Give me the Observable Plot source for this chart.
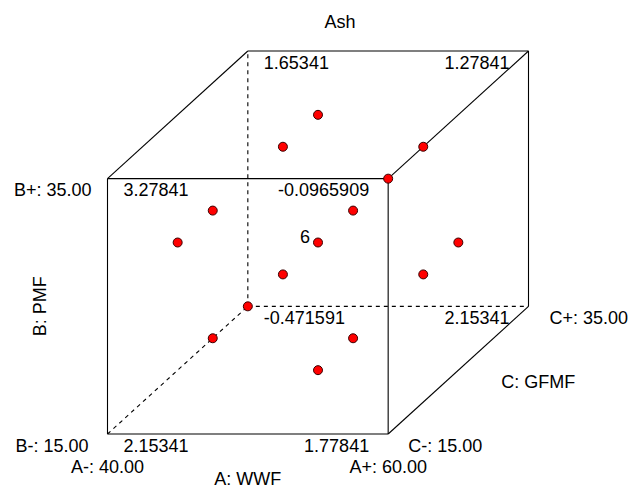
<!DOCTYPE html>
<html>
<head>
<meta charset="utf-8">
<script src="https://cdn.jsdelivr.net/npm/d3@7"></script>
<script src="https://cdn.jsdelivr.net/npm/@observablehq/plot@0.6"></script>
<style>
  html, body { margin: 0; padding: 0; background: #fff; }
  svg { display: block; }
</style>
</head>
<body>
<div id="chart"></div>
<script>
// ---- Data ----
const title = "Ash";
// Cube corners (coded units) and predicted response at each corner
const cornerA = [-1, 1, -1, 1, -1, 1, -1, 1];
const cornerB = [-1, -1, 1, 1, -1, -1, 1, 1];
const cornerC = [-1, -1, -1, -1, 1, 1, 1, 1];
const cornerValue = ["2.15341", "1.77841", "3.27841", "-0.0965909", "-0.471591", "2.15341", "1.65341", "1.27841"];

// Design points (coded units) and replicate counts
const pointA = [-0.5, 0.5, -0.5, 0.5, -0.5, 0.5, -0.5, 0.5, -1, 1, 0, 0, 0, 0, 0];
const pointB = [-0.5, -0.5, 0.5, 0.5, -0.5, -0.5, 0.5, 0.5, 0, 0, -1, 1, 0, 0, 0];
const pointC = [-0.5, -0.5, -0.5, -0.5, 0.5, 0.5, 0.5, 0.5, 0, 0, 0, 0, -1, 1, 0];
const pointReps = [1, 1, 1, 1, 1, 1, 1, 1, 1, 1, 1, 1, 1, 1, 6];

// Factor labels
const factorName = ["A: WWF", "B: PMF", "C: GFMF"];
const lowLabel = ["A-: 40.00", "B-: 15.00", "C-: 15.00"];
const highLabel = ["A+: 60.00", "B+: 35.00", "C+: 35.00"];

// ---- Projection of the cube (oblique) ----
const projX = (a, b, c) => a + (c + 1) / 2;
const projY = (a, b, c) => b + (c + 1) / 2;

// Hidden vertex is the back-bottom-left corner
const hidden = [-1, -1, 1];
const verts = [];
for (const c of [-1, 1]) for (const b of [-1, 1]) for (const a of [-1, 1]) verts.push([a, b, c]);
const edges = [];
for (let i = 0; i < verts.length; i++) {
  for (let j = i + 1; j < verts.length; j++) {
    const p = verts[i], q = verts[j];
    const diff = p.reduce((s, v, k) => s + (v !== q[k] ? 1 : 0), 0);
    if (diff === 1) {
      const isHidden = [p, q].some(v => v[0] === hidden[0] && v[1] === hidden[1] && v[2] === hidden[2]);
      edges.push({x1: projX(...p), y1: projY(...p), x2: projX(...q), y2: projY(...q), hidden: isHidden});
    }
  }
}

const corners = cornerValue.map((v, i) => ({
  a: cornerA[i], b: cornerB[i], c: cornerC[i], value: v,
  x: projX(cornerA[i], cornerB[i], cornerC[i]),
  y: projY(cornerA[i], cornerB[i], cornerC[i])
}));
const points = pointReps.map((r, i) => ({
  x: projX(pointA[i], pointB[i], pointC[i]),
  y: projY(pointA[i], pointB[i], pointC[i]),
  reps: r
}));

const P = (a, b, c) => ({x: projX(a, b, c), y: projY(a, b, c)});

const font = "Arial, 'Liberation Sans', sans-serif";
const fs = 18;

const chart = Plot.plot({
  width: 629,
  height: 488,
  margin: 0,
  x: {domain: [-1, 2], range: [107, 528], axis: null},
  y: {domain: [-1, 2], range: [433.5, 50.5], axis: null},
  style: {fontFamily: font, fontSize: fs + "px", background: "#fff", color: "#000"},
  marks: [
    // cube edges
    Plot.link(edges.filter(d => !d.hidden), {x1: "x1", y1: "y1", x2: "x2", y2: "y2", stroke: "#000", strokeWidth: 1.1}),
    Plot.link(edges.filter(d => d.hidden), {x1: "x1", y1: "y1", x2: "x2", y2: "y2", stroke: "#000", strokeWidth: 1.1, strokeDasharray: "4,4"}),
    // corner values
    Plot.text(corners.filter(d => d.a < 0), {x: "x", y: "y", text: "value", textAnchor: "start", dx: 16, dy: 12, fontSize: fs, fill: "#000"}),
    Plot.text(corners.filter(d => d.a > 0), {x: "x", y: "y", text: "value", textAnchor: "end", dx: -19, dy: 12, fontSize: fs, fill: "#000"}),
    // design points
    Plot.dot(points, {x: "x", y: "y", r: 4.5, fill: "#ff0000", stroke: "#3a0000", strokeWidth: 1}),
    Plot.text(points.filter(d => d.reps > 1), {x: "x", y: "y", text: d => String(d.reps), textAnchor: "end", dx: -8, dy: -5, fontSize: fs, fill: "#000"}),
    // factor A labels
    Plot.text([P(-1, -1, -1)], {x: "x", y: "y", text: [lowLabel[0]], dy: 33, fontSize: fs, fill: "#000"}),
    Plot.text([P(1, -1, -1)], {x: "x", y: "y", text: [highLabel[0]], dy: 33, fontSize: fs, fill: "#000"}),
    Plot.text([P(0, -1, -1)], {x: "x", y: "y", text: [factorName[0]], dy: 45, fontSize: fs, fill: "#000"}),
    // factor B labels
    Plot.text([P(-1, -1, -1)], {x: "x", y: "y", text: [lowLabel[1]], textAnchor: "end", dx: -19, dy: 12, fontSize: fs, fill: "#000"}),
    Plot.text([P(-1, 1, -1)], {x: "x", y: "y", text: [highLabel[1]], textAnchor: "end", dx: -16, dy: 12, fontSize: fs, fill: "#000"}),
    Plot.text([P(-1, 0, -1)], {x: "x", y: "y", text: [factorName[1]], rotate: -90, dx: -67, dy: 0, fontSize: fs, fill: "#000"}),
    // factor C labels
    Plot.text([P(1, -1, -1)], {x: "x", y: "y", text: [lowLabel[2]], textAnchor: "start", dx: 20, dy: 12, fontSize: fs, fill: "#000"}),
    Plot.text([P(1, -1, 1)], {x: "x", y: "y", text: [highLabel[2]], textAnchor: "start", dx: 21, dy: 12, fontSize: fs, fill: "#000"}),
    Plot.text([P(1, -1, 0)], {x: "x", y: "y", text: [factorName[2]], dx: 80, dy: 12, fontSize: fs, fill: "#000"}),
    // title
    Plot.text([title], {frameAnchor: "top", lineAnchor: "middle", dx: 25, dy: 22, fontSize: fs, fill: "#000"})
  ]
});
document.getElementById("chart").appendChild(chart);
</script>
</body>
</html>
